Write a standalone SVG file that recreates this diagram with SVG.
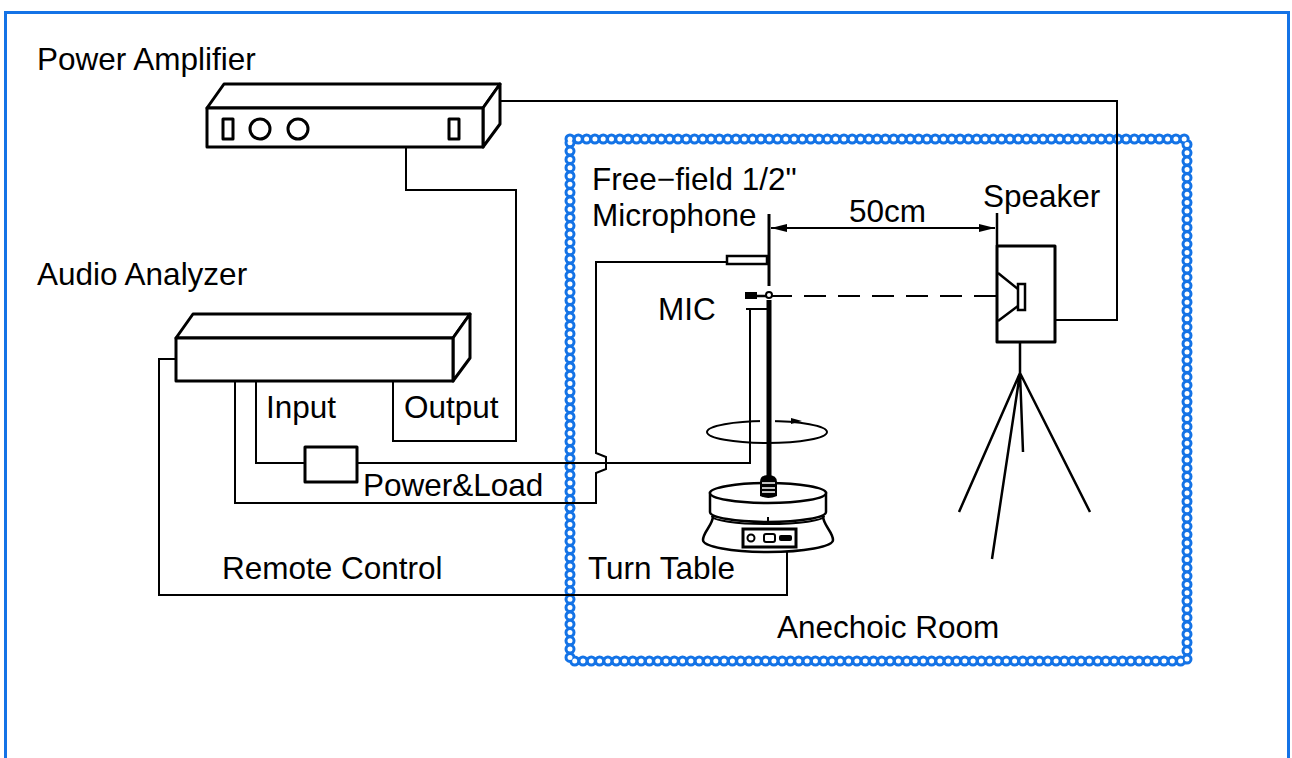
<svg xmlns="http://www.w3.org/2000/svg" width="1292" height="758" viewBox="0 0 1292 758">
<style>
.t{font-family:"Liberation Sans",Arial,sans-serif;font-size:31.5px;fill:#000}
.box{fill:#fff;stroke:#000;stroke-width:3;stroke-linejoin:round}
.w{fill:none;stroke:#000;stroke-width:2}
</style>
<defs>
<marker id="ah" viewBox="0 0 16 8" refX="16" refY="4" markerWidth="16" markerHeight="8" markerUnits="userSpaceOnUse" orient="auto-start-reverse"><path d="M0,0 L16,4 L0,8 Z" fill="#000"/></marker>
</defs>
<rect width="1292" height="758" fill="#fff"/>
<path d="M5.5,758 V12.5 H1288.5 V758" fill="none" stroke="#1473e6" stroke-width="3"/>

<g id="anechoic-room">
<rect x="570" y="139" width="617" height="522" fill="none" stroke="#1473e6" stroke-width="11" stroke-dasharray="0 8.3" stroke-linecap="round"/>
<rect x="570" y="139" width="617" height="522" fill="none" stroke="#fff" stroke-width="5" stroke-dasharray="0 8.3" stroke-linecap="round"/>
<text class="t" x="777" y="638">Anechoic Room</text>
</g>

<g id="connectors">
<path class="w" d="M500,101 H1117 V320 H1055"/>
<path class="w" d="M406,147 V190 H516 V441 H393 V381"/>
<path class="w" d="M256,381 V463 H305 M357,463 H750 V309 M746,309 H767"/>
<path class="w" d="M235,381 V503 H596 V473 L606,469 V457 L596,453 V262 H727"/>
<path class="w" d="M176,359 H159 V595 H787 V541"/>
<path d="M770,296 H996" fill="none" stroke="#000" stroke-width="2" stroke-dasharray="22 12"/>
<path class="w" d="M771,228 H995" marker-start="url(#ah)" marker-end="url(#ah)"/>
</g>

<g id="power-amplifier">
<text class="t" x="37" y="70">Power Amplifier</text>
<polygon class="box" points="207,108 224,84 500,84 483,108"/>
<polygon class="box" points="483,108 500,84 500,124 483,147"/>
<rect class="box" x="207" y="108" width="276" height="39"/>
<rect class="box" x="223" y="119" width="10" height="20" stroke-width="2.5"/>
<circle class="box" cx="260" cy="129" r="10" stroke-width="2.5"/>
<circle class="box" cx="298" cy="129" r="10" stroke-width="2.5"/>
<rect class="box" x="449" y="119" width="10" height="20" stroke-width="2.5"/>
</g>

<g id="audio-analyzer">
<text class="t" x="37" y="285">Audio Analyzer</text>
<polygon class="box" points="176,338 193,314 470,314 453,338"/>
<polygon class="box" points="453,338 470,314 470,358 453,381"/>
<rect class="box" x="176" y="338" width="277" height="43"/>
<text class="t" x="266" y="418">Input</text>
<text class="t" x="404" y="418">Output</text>
</g>

<g id="power-load">
<rect class="box" x="305" y="447" width="52" height="35" stroke-width="2.5"/>
<text class="t" x="363" y="496">Power&amp;Load</text>
</g>

<g id="remote-label"><text class="t" x="222" y="579">Remote Control</text></g>

<g id="microphone">
<text class="t" x="592" y="190">Free−field 1/2"</text>
<text class="t" x="592" y="226">Microphone</text>
<text class="t" x="658" y="320">MIC</text>
<line x1="769" y1="214" x2="769" y2="286" stroke="#000" stroke-width="3"/>
<rect x="727" y="256" width="40" height="8" fill="#fff" stroke="#000" stroke-width="2.5"/>
<rect x="745" y="292" width="12" height="7" fill="#000"/>
<line x1="756" y1="296" x2="766" y2="296" stroke="#000" stroke-width="2.5"/>
<ellipse cx="767" cy="432" rx="60" ry="11" fill="none" stroke="#000" stroke-width="2"/>
<rect x="760" y="418" width="15" height="6" fill="#fff"/>
<polygon points="791,418 802,421 791,424" fill="#000"/>
<line x1="769" y1="300" x2="769" y2="478" stroke="#000" stroke-width="5"/>
<circle cx="769" cy="295" r="3" fill="#fff" stroke="#000" stroke-width="2"/>
</g>

<g id="turn-table">
<path d="M703,540 C703,532 713,525 713,516 L823,516 C823,525 833,532 833,540 A65,12 0 0 1 703,540 Z" fill="#fff" stroke="#000" stroke-width="2.5"/>
<path d="M710,493 V512 A58,10 0 0 0 826,512 V493 Z" fill="#fff" stroke="#000" stroke-width="2.5"/>
<path d="M712,516 A56,8 0 0 0 824,516" fill="none" stroke="#000" stroke-width="2"/>
<ellipse cx="768" cy="493" rx="58" ry="10" fill="#fff" stroke="#000" stroke-width="2.5"/>
<path d="M760,496 V482 Q760,475 768,475 Q777,475 777,482 V496 Q768,500 760,496 Z" fill="#000"/>
<path d="M762,483 H775 M762,488 H775 M762,492 H775" stroke="#fff" stroke-width="1.5"/>
<line x1="768" y1="517" x2="768" y2="524" stroke="#000" stroke-width="2"/>
<rect x="743" y="529" width="53" height="18" fill="#fff" stroke="#000" stroke-width="3"/>
<circle cx="751" cy="538" r="3.5" fill="none" stroke="#000" stroke-width="2"/>
<rect x="764" y="534" width="11" height="8" rx="2" fill="none" stroke="#000" stroke-width="2"/>
<rect x="779" y="535" width="13" height="6" rx="2" fill="#000"/>
<text class="t" x="588" y="579">Turn Table</text>
</g>

<g id="speaker">
<text class="t" x="983" y="207">Speaker</text>
<line x1="997" y1="213" x2="997" y2="246" stroke="#000" stroke-width="2.5"/>
<rect class="box" x="997" y="246" width="58" height="96"/>
<path d="M998,273 L1018,289 M998,321 L1018,306" stroke="#000" stroke-width="2.5" fill="none"/>
<rect x="1018" y="284" width="7" height="26" fill="#fff" stroke="#000" stroke-width="2.5"/>
<path d="M1020,342 V373 M1020,373 L959,512 M1020,373 L1090,512 M1020,373 L992,559 M1020,373 L1023,452" stroke="#000" stroke-width="2.5" fill="none"/>
<text class="t" x="849" y="222">50cm</text>
</g>
</svg>
